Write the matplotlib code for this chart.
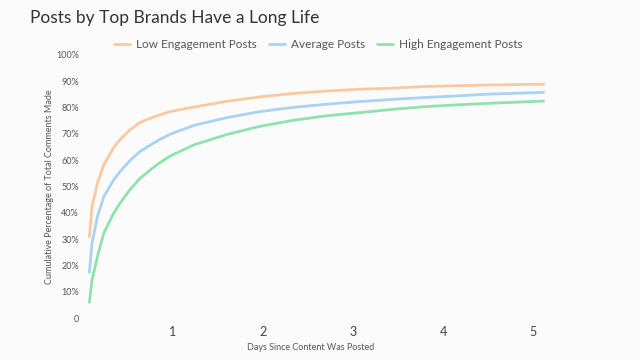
import matplotlib
matplotlib.use("Agg")
import matplotlib.pyplot as plt
from matplotlib.ticker import FuncFormatter

# values
days = [0.07, 0.10, 0.16, 0.23, 0.34, 0.41, 0.52, 0.63, 0.78, 0.86, 0.97,
        1.23, 1.60, 1.97, 2.34, 2.71, 3.08, 3.43, 3.78, 4.13, 4.49, 5.13]
low_engagement = [30.5, 42.3, 51.2, 58.2, 64.8, 67.8, 71.5, 74.3, 76.4, 77.3, 78.5,
                  80.2, 82.4, 84.1, 85.4, 86.3, 87.0, 87.4, 88.0, 88.3, 88.6, 88.9]
average_posts = [17.0, 28.4, 38.5, 46.1, 52.5, 55.6, 59.8, 63.2, 66.4, 68.0, 69.9,
                 73.2, 76.2, 78.5, 80.1, 81.3, 82.3, 83.1, 83.8, 84.4, 85.1, 85.8]
high_engagement = [5.6, 14.4, 23.3, 32.2, 39.8, 43.6, 48.7, 53.0, 57.2, 59.2, 61.6,
                   65.8, 69.8, 72.9, 75.2, 76.9, 78.1, 79.3, 80.3, 81.0, 81.6, 82.5]

series_names = ["Low Engagement Posts", "Average Posts", "High Engagement Posts"]
x_ticks = [1, 2, 3, 4, 5]
y_ticks = [0, 10, 20, 30, 40, 50, 60, 70, 80, 90, 100]

colors = ["#fcc89e", "#a9d2f3", "#8fe2ad"]
bg = "#fbfbfb"

plt.rcParams["font.family"] = ["Lato", "DejaVu Sans"]

fig = plt.figure(figsize=(6.4, 3.6), dpi=100, facecolor=bg)
ax = fig.add_axes([83 / 640, 42 / 360, 477 / 640, 263 / 360], facecolor=bg)

for vals, name, c in zip([low_engagement, average_posts, high_engagement],
                         series_names, colors):
    ax.plot(days, vals, color=c, lw=2.0, label=name, solid_capstyle="butt",
            solid_joinstyle="round")

ax.set_xlim(0, 5.3)
ax.set_ylim(0, 100)
ax.set_xticks(x_ticks)
ax.set_yticks(y_ticks)
ax.yaxis.set_major_formatter(FuncFormatter(lambda v, p: "0" if v == 0 else f"{int(v)}%"))
ax.tick_params(axis="y", length=0, pad=3, labelsize=6.5, labelcolor="#555555")
ax.tick_params(axis="x", length=0, pad=6, labelsize=9, labelcolor="#444444")
for s in ax.spines.values():
    s.set_visible(False)

fig.text(30 / 640, 1 - 18 / 360, "Posts by Top Brands Have a Long Life",
         fontsize=12.5, color="#333333", va="center", ha="left")
fig.text(311 / 640, 1 - 348 / 360, "Days Since Content Was Posted",
         fontsize=6.5, color="#555555", va="center", ha="center")
fig.text(50 / 640, 1 - 187 / 360, "Cumulative Percentage of Total Comments Made",
         fontsize=6.5, color="#555555", va="center", ha="center", rotation=90)

fig.legend(loc="center", bbox_to_anchor=(318 / 640, 1 - 45 / 360), ncol=3,
           frameon=False, fontsize=8.5, handlelength=1.5, handletextpad=0.45,
           columnspacing=0.95, labelcolor="#555555")

fig.savefig("out.png", dpi=100, facecolor=bg)
